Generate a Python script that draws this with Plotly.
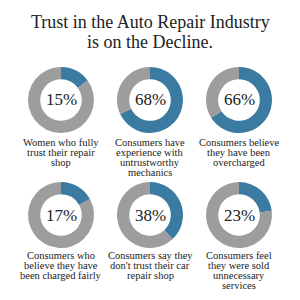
import plotly.graph_objects as go

title_lines = ["Trust in the Auto Repair Industry", "is on the Decline."]
percents = [15, 68, 66, 17, 38, 23]
labels = [
    ["Women who fully", "trust their repair", "shop"],
    ["Consumers have", "experience with", "untrustworthy", "mechanics"],
    ["Consumers believe", "they have been", "overcharged"],
    ["Consumers who", "believe they have", "been charged fairly"],
    ["Consumers say they", "don't trust their car", "repair shop"],
    ["Consumers feel", "they were sold", "unnecessary", "services"],
]

BLUE = "#3b7aa1"
GRAY = "#9d9d9d"
TXT = "#222222"
SERIF = "Liberation Serif, DejaVu Serif, serif"

W = H = 300
cx = [61, 150, 239]
cy = [100, 215]
label_top = [142, 255]
R = 33

fig = go.Figure()
anns = []
for i, p in enumerate(percents):
    r, c = divmod(i, 3)
    x, y = cx[c], cy[r]
    fig.add_trace(go.Pie(
        values=[p, 100 - p],
        sort=False,
        direction="clockwise",
        rotation=0,
        hole=0.63,
        marker=dict(colors=[BLUE, GRAY], line=dict(width=0)),
        textinfo="none",
        hoverinfo="skip",
        showlegend=False,
        domain=dict(x=[(x - R) / W, (x + R) / W], y=[1 - (y + R) / H, 1 - (y - R) / H]),
    ))
    anns.append(dict(text=f"{p}%", x=x / W, y=1 - y / H, xref="paper", yref="paper",
                     showarrow=False, font=dict(family=SERIF, size=17, color=TXT),
                     xanchor="center", yanchor="middle"))
    for k, line in enumerate(labels[i]):
        anns.append(dict(text=line, x=x / W, y=1 - (label_top[r] + 10 * k) / H,
                         xref="paper", yref="paper", showarrow=False,
                         font=dict(family=SERIF, size=10.5, color=TXT),
                         xanchor="center", yanchor="middle"))

for k, line in enumerate(title_lines):
    anns.append(dict(text=line, x=0.5, y=1 - (22 + 20 * k) / H, xref="paper", yref="paper",
                     showarrow=False, font=dict(family=SERIF, size=18, color=TXT),
                     xanchor="center", yanchor="middle"))

fig.update_layout(width=W, height=H, margin=dict(l=0, r=0, t=0, b=0),
                  paper_bgcolor="white", plot_bgcolor="white", annotations=anns)
fig.write_html("out.html")
